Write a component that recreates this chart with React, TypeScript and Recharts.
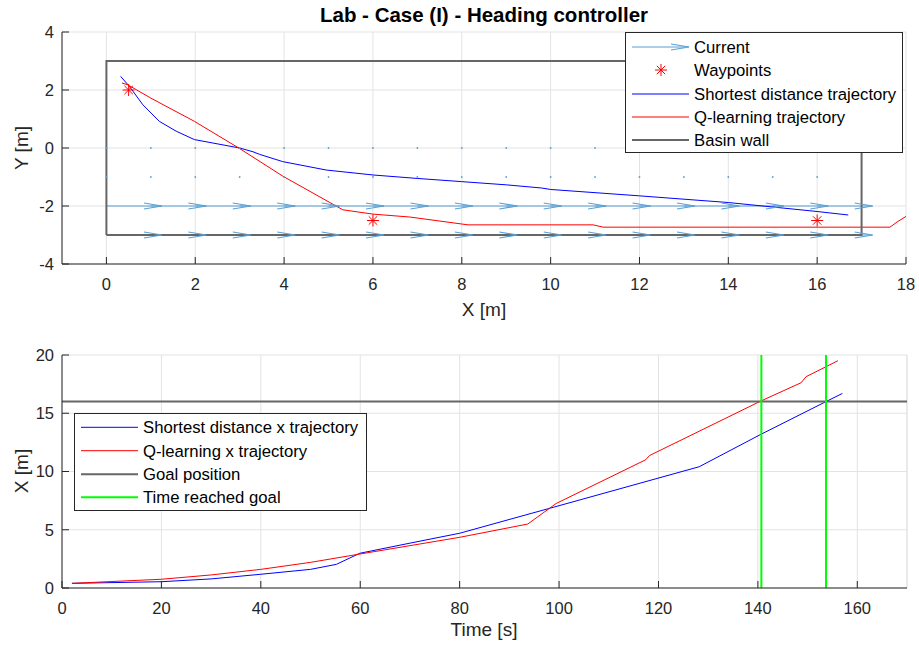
import React from 'react';
import { ComposedChart, Line, Scatter, XAxis, YAxis, CartesianGrid, ReferenceLine } from 'recharts';

// ---- top plot: trajectories in the basin ----
const WAYPOINT_X = [0.5, 6, 16];
const WAYPOINT_Y = [2, -2.5, -2.5];

const SD_X = [0.32, 0.52, 0.82, 1.19, 1.57, 1.98, 3.0, 3.3, 3.45, 3.97, 4.95, 6.0, 7.0, 8.0, 9.0, 9.8, 10.0, 12.0, 14.0, 16.0, 16.7];
const SD_Y = [2.47, 2.12, 1.49, 0.92, 0.58, 0.29, 0.0, -0.13, -0.22, -0.47, -0.76, -0.93, -1.05, -1.16, -1.27, -1.38, -1.43, -1.65, -1.88, -2.19, -2.31];

const QL_X = [0.35, 0.48, 1.0, 1.98, 3.0, 3.97, 5.32, 6.0, 6.83, 8.14, 10.96, 11.18, 17.64, 17.8, 18.0];
const QL_Y = [2.24, 2.18, 1.72, 0.92, -0.02, -0.97, -2.13, -2.28, -2.38, -2.65, -2.65, -2.73, -2.73, -2.55, -2.36];

const WALL_X = [0, 17, 17, 0, 0];
const WALL_Y = [-3, -3, 3, 3, -3];

// current field: arrows start at these x positions
const CURRENT_X0 = [0, 1, 2, 3, 4, 5, 6, 7, 8, 9, 10, 11, 12, 13, 14, 15, 16];
const CURRENT_ROWS = [-2, -3];
const CURRENT_LEN = 1.25;
const STILL_ROWS = [0, -1];

const TOP_X_TICKS = [0, 2, 4, 6, 8, 10, 12, 14, 16, 18];
const TOP_Y_TICKS = [-4, -2, 0, 2, 4];

// ---- bottom plot: x position over time ----
const SD_T = [2, 20, 30, 40, 50, 55.2, 59.9, 70, 80, 98.1, 128.2, 140.6, 153.7, 157];
const SD_XT = [0.4, 0.54, 0.78, 1.18, 1.6, 2.03, 2.98, 3.85, 4.7, 6.84, 10.41, 13.19, 16.0, 16.7];

const QL_T = [2, 20, 30, 40, 50, 60, 80, 93.7, 99.4, 117.4, 118.2, 140.6, 148.7, 149.7, 156.1];
const QL_XT = [0.4, 0.75, 1.12, 1.6, 2.2, 2.92, 4.35, 5.49, 7.25, 11.0, 11.37, 16.05, 17.62, 18.14, 19.51];

const GOAL_X = 16;
const GOAL_TIMES = [140.7, 153.7];

const BOT_X_TICKS = [0, 20, 40, 60, 80, 100, 120, 140, 160];
const BOT_Y_TICKS = [0, 5, 10, 15, 20];

const FONT = '"Liberation Sans", Arial, Helvetica, sans-serif';
const AXIS = '#262626';
const GRID = '#e3e3e3';
const CURRENT = '#5aa0d4';
const BLUE = '#0000ff';
const RED = '#ff0000';
const WALL = '#666666';
const GREEN = '#00ff00';

const zip = (xs: number[], ys: number[]) => xs.map((x, i) => ({ x, y: ys[i] }));

const waypoints = zip(WAYPOINT_X, WAYPOINT_Y);
const sdPath = zip(SD_X, SD_Y);
const qlPath = zip(QL_X, QL_Y);
const wall = zip(WALL_X, WALL_Y);
const arrowTips = CURRENT_ROWS.flatMap((y) => CURRENT_X0.map((x) => ({ x: x + CURRENT_LEN, y })));
const stillPoints = STILL_ROWS.flatMap((y) => CURRENT_X0.map((x) => ({ x, y })));

const sdTime = zip(SD_T, SD_XT);
const qlTime = zip(QL_T, QL_XT);

const XTick = (props: any) => {
  const { x, y, payload } = props;
  return (
    <g>
      <line x1={x} x2={x} y1={y} y2={y - 7} stroke={AXIS} />
      <text x={x} y={y + 26} textAnchor="middle" fontSize={16.5} fontFamily={FONT} fill={AXIS}>
        {payload.value}
      </text>
    </g>
  );
};

const YTick = (props: any) => {
  const { x, y, payload } = props;
  return (
    <g>
      <line x1={x} x2={x + 7} y1={y} y2={y} stroke={AXIS} />
      <text x={x - 8} y={y} dy="0.36em" textAnchor="end" fontSize={16.5} fontFamily={FONT} fill={AXIS}>
        {payload.value}
      </text>
    </g>
  );
};

const Asterisk = ({ cx, cy, r = 6 }: any) => {
  const d = r * 0.7;
  return (
    <g stroke={RED} strokeWidth={1}>
      <line x1={cx - r} x2={cx + r} y1={cy} y2={cy} />
      <line x1={cx} x2={cx} y1={cy - r} y2={cy + r} />
      <line x1={cx - d} x2={cx + d} y1={cy - d} y2={cy + d} />
      <line x1={cx - d} x2={cx + d} y1={cy + d} y2={cy - d} />
    </g>
  );
};

const ArrowHead = ({ cx, cy }: any) => (
  <path d={`M${cx - 18},${cy - 3} L${cx},${cy} L${cx - 18},${cy + 3}`} fill="none" stroke={CURRENT} strokeWidth={1.2} />
);

const StillDot = ({ cx, cy }: any) => <circle cx={cx} cy={cy} r={0.9} fill={CURRENT} />;

type Entry = { label: string; kind: 'arrow' | 'star' | 'line'; color: string; width?: number };

const TOP_LEGEND: Entry[] = [
  { label: 'Current', kind: 'arrow', color: CURRENT },
  { label: 'Waypoints', kind: 'star', color: RED },
  { label: 'Shortest distance trajectory', kind: 'line', color: BLUE },
  { label: 'Q-learning trajectory', kind: 'line', color: RED },
  { label: 'Basin wall', kind: 'line', color: WALL, width: 2 },
];

const BOT_LEGEND: Entry[] = [
  { label: 'Shortest distance x trajectory', kind: 'line', color: BLUE },
  { label: 'Q-learning x trajectory', kind: 'line', color: RED },
  { label: 'Goal position', kind: 'line', color: WALL, width: 2 },
  { label: 'Time reached goal', kind: 'line', color: GREEN, width: 2 },
];

function LegendBox({ entries, left, top, width, height, rowY }: { entries: Entry[]; left: number; top: number; width: number; height: number; rowY: number[] }) {
  return (
    <svg style={{ position: 'absolute', left, top }} width={width} height={height}>
      <rect x={0.5} y={0.5} width={width - 1} height={height - 1} fill="#fff" stroke={AXIS} />
      {entries.map((e, i) => {
        const y = rowY[i];
        return (
          <g key={e.label}>
            {e.kind === 'star' ? (
              <Asterisk cx={36} cy={y} r={6} />
            ) : (
              <line x1={7} x2={64} y1={y} y2={y} stroke={e.color} strokeWidth={e.width || 1} />
            )}
            {e.kind === 'arrow' && (
              <path d={`M46,${y - 3} L64,${y} L46,${y + 3}`} fill="none" stroke={e.color} strokeWidth={1.2} />
            )}
            <text x={69} y={y} dy="0.36em" fontSize={16.7} fontFamily={FONT} fill="#000">
              {e.label}
            </text>
          </g>
        );
      })}
    </svg>
  );
}

const labelStyle: React.CSSProperties = {
  position: 'absolute',
  fontFamily: FONT,
  fontSize: 19,
  color: AXIS,
  whiteSpace: 'nowrap',
  transform: 'translate(-50%, -50%)',
};

export default function App() {
  return (
    <div style={{ position: 'absolute', left: 0, top: 0, width: 919, height: 648, background: '#fff', fontFamily: FONT }}>
      <div style={{ position: 'absolute', left: 62, width: 844, top: 4, textAlign: 'center', fontWeight: 'bold', fontSize: 20.5, lineHeight: '22px', color: '#000' }}>
        Lab - Case (I) - Heading controller
      </div>

      <div style={{ position: 'absolute', left: 0, top: 0 }}>
        <ComposedChart width={919} height={300} margin={{ top: 32, right: 13, bottom: 0, left: 0 }}>
          <CartesianGrid stroke={GRID} />
          <XAxis type="number" dataKey="x" domain={[-1, 18]} ticks={TOP_X_TICKS} interval={0} height={36}
            axisLine={{ stroke: AXIS }} tickLine={false} tickSize={0} tickMargin={0} tick={<XTick />} />
          <YAxis type="number" dataKey="y" domain={[-4, 4]} ticks={TOP_Y_TICKS} interval={0} width={62}
            axisLine={{ stroke: AXIS }} tickLine={false} tickSize={0} tickMargin={0} tick={<YTick />} />
          {CURRENT_ROWS.flatMap((y) =>
            CURRENT_X0.map((x) => (
              <ReferenceLine key={`s${y}-${x}`} segment={[{ x, y }, { x: x + CURRENT_LEN, y }]} stroke={CURRENT} strokeWidth={1} />
            ))
          )}
          <Scatter data={arrowTips} shape={<ArrowHead />} isAnimationActive={false} />
          <Scatter data={stillPoints} shape={<StillDot />} isAnimationActive={false} />
          <Scatter data={waypoints} shape={<Asterisk />} isAnimationActive={false} />
          <Line data={sdPath} dataKey="y" type="linear" stroke={BLUE} strokeWidth={1} dot={false} isAnimationActive={false} />
          <Line data={qlPath} dataKey="y" type="linear" stroke={RED} strokeWidth={1} dot={false} isAnimationActive={false} />
          <Line data={wall} dataKey="y" type="linear" stroke={WALL} strokeWidth={2} dot={false} isAnimationActive={false} />
        </ComposedChart>
      </div>

      <LegendBox entries={TOP_LEGEND} left={625} top={32} width={278} height={121} rowY={[15, 38, 62, 85, 108]} />

      <div style={{ ...labelStyle, left: 484, top: 310 }}>X [m]</div>
      <div style={{ ...labelStyle, left: 22, top: 148, transform: 'translate(-50%, -50%) rotate(-90deg)' }}>Y [m]</div>

      <div style={{ position: 'absolute', left: 0, top: 320 }}>
        <ComposedChart width={919} height={328} margin={{ top: 35, right: 12, bottom: 0, left: 0 }}>
          <CartesianGrid stroke={GRID} />
          <XAxis type="number" dataKey="x" domain={[0, 170]} ticks={BOT_X_TICKS} interval={0} height={60}
            axisLine={{ stroke: AXIS }} tickLine={false} tickSize={0} tickMargin={0} tick={<XTick />} />
          <YAxis type="number" dataKey="y" domain={[0, 20]} ticks={BOT_Y_TICKS} interval={0} width={62}
            axisLine={{ stroke: AXIS }} tickLine={false} tickSize={0} tickMargin={0} tick={<YTick />} />
          <ReferenceLine x={170} stroke={GRID} />
          <Line data={sdTime} dataKey="y" type="linear" stroke={BLUE} strokeWidth={1} dot={false} isAnimationActive={false} />
          <Line data={qlTime} dataKey="y" type="linear" stroke={RED} strokeWidth={1} dot={false} isAnimationActive={false} />
          <ReferenceLine y={GOAL_X} stroke={WALL} strokeWidth={2} />
          {GOAL_TIMES.map((t) => (
            <ReferenceLine key={t} x={t} stroke={GREEN} strokeWidth={2} />
          ))}
        </ComposedChart>
      </div>

      <LegendBox entries={BOT_LEGEND} left={74} top={413} width={293} height={98} rowY={[14.3, 37.7, 61.3, 84.3]} />

      <div style={{ ...labelStyle, left: 484, top: 630 }}>Time [s]</div>
      <div style={{ ...labelStyle, left: 22, top: 471, transform: 'translate(-50%, -50%) rotate(-90deg)' }}>X [m]</div>
    </div>
  );
}
